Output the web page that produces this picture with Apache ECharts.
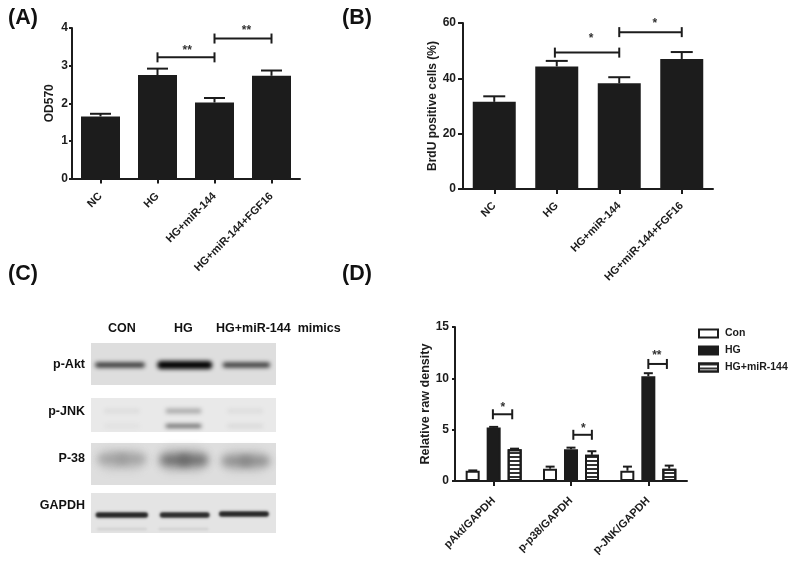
<!DOCTYPE html>
<html><head><meta charset="utf-8">
<style>html,body{margin:0;padding:0;background:#fff}#c{width:800px;height:562px}</style>
<script src="https://cdn.jsdelivr.net/npm/echarts@6/dist/echarts.min.js"></script>
</head><body><div id="c"></div>
<script>
const barCategories = ['NC','HG','HG+miR-144','HG+miR-144+FGF16'];
const odValues = [1.65,2.75,2.02,2.73];
const odErrTops = [1.72,2.92,2.14,2.87];
const odBrackets = [[1,2,3.22,'**',1.52,3.45],[2,3,3.72,'**',2.56,3.99]];
const brduValues = [31.5,44.3,38.2,47];
const brduErrTops = [33.5,46.3,40.4,49.5];
const brduBrackets = [[0.97,2,49.3,'*',1.55,54.9],[2,3,56.7,'*',2.57,60.4]];
const densityCategories = ['pAkt/GAPDH','p-p38/GAPDH','p-JNK/GAPDH'];
const conValues = [1.0,1.2,1.0];
const hgValues = [5.2,3.1,10.2];
const mirValues = [3.1,2.55,1.2];
const conErrTops = [1.03,1.4,1.4];
const hgErrTops = [5.27,3.25,10.5];
const mirErrTops = [3.15,2.9,1.5];
const densityBrackets = [[-0.01,0.24,6.5,'*',0.12,7.3],[1.03,1.27,4.5,'*',1.16,5.26],[2,2.24,11.4,'**',2.11,12.37]];
const blotLanes = ['CON','HG','HG+miR-144  mimics'];
const blotRows = ['p-Akt','p-JNK','P-38','GAPDH'];
// row, lane position, vertical offset, band grey level, relative height, relative width
const blotBands = [
 [0,-0.03,22,45,1.2,1],[0,1.02,22,0,2.0,1.1],[0,2.02,22,50,1.2,.95],
 [1,0,68,215,.8,1],[1,1,68,165,1.1,1],[1,2,68,215,.8,1],[1,0,83,222,.8,1],[1,1,83,70,.8,1],[1,2,83,212,.7,1],
 [2,0,117,200,5.5,1.5],[2,1,117,190,6,1.6],[2,2,118,198,5.5,1.5],
 [2,-0.14,116,150,1.8,1],[2,0.14,116,150,1.8,1],[2,0.87,117,100,2.2,1],[2,1.15,117,100,2.2,1],[2,1.87,118,128,1.9,1],[2,2.15,118,128,1.9,1],
 [3,0,172,35,1.35,1.05],[3,1.02,172,40,1.35,1],[3,1.98,171,35,1.35,1],[3,0,186,208,.6,1],[3,1,186,208,.6,1]
];
const blotStrips = [[0,0,42,222],[1,55,89,233],[2,100,142,222],[3,150,190,228]];

const ink = '#1c1c1c';
const font = 'Liberation Sans';

function grid(l,t,w,h){return {left:l,top:t,width:w,height:h,containLabel:false};}
function catAxis(i,cats,size,margin){return {type:'category',gridIndex:i,data:cats,
  axisLine:{show:true,onZero:false,lineStyle:{color:ink,width:2}},
  axisTick:{show:true,alignWithLabel:true,length:5,lineStyle:{color:ink,width:2}},
  axisLabel:{rotate:45,interval:0,color:ink,fontFamily:font,fontWeight:'bold',fontSize:size,margin:margin}};}
function hiddenX(i,min,max){return {type:'value',gridIndex:i,min:min,max:max,show:false};}
function valAxis(i,max,step,name,gap,size,nameSize,tick,margin){return {type:'value',gridIndex:i,min:0,max:max,interval:step,
  name:name,nameLocation:'middle',nameGap:gap,
  nameTextStyle:{color:ink,fontFamily:font,fontWeight:'bold',fontSize:nameSize},
  axisLine:{show:true,onZero:false,lineStyle:{color:ink,width:2}},
  axisTick:{show:true,length:tick,lineStyle:{color:ink,width:2}},
  splitLine:{show:false},
  axisLabel:{color:ink,fontFamily:font,fontWeight:'bold',fontSize:size,margin:margin}};}

function errorSeries(i,xIdx,rows,cap){return {type:'custom',xAxisIndex:xIdx,yAxisIndex:i,silent:true,z:1,
  data:rows,
  renderItem:function(p,api){
    const a=api.coord([api.value(0),api.value(1)]),b=api.coord([api.value(0),api.value(2)]);
    const st={stroke:ink,lineWidth:2,fill:null};
    return {type:'group',children:[
      {type:'line',shape:{x1:a[0],y1:a[1],x2:b[0],y2:b[1]},style:st},
      {type:'line',shape:{x1:b[0]-cap,y1:b[1],x2:b[0]+cap,y2:b[1]},style:st}]};
  }};}
function bracketSeries(i,xIdx,rows,capH){return {type:'custom',xAxisIndex:xIdx,yAxisIndex:i,silent:true,z:3,
  data:rows.map(r=>[r[0],r[1],r[2],r[4],r[5],r[3]]),
  renderItem:function(p,api){
    const a=api.coord([api.value(0),api.value(2)]),b=api.coord([api.value(1),api.value(2)]);
    const s=api.coord([api.value(3),api.value(4)]);
    const st={stroke:ink,lineWidth:2,fill:null};
    return {type:'group',children:[
      {type:'line',shape:{x1:a[0],y1:a[1],x2:b[0],y2:b[1]},style:st},
      {type:'line',shape:{x1:a[0],y1:a[1]-capH,x2:a[0],y2:a[1]+capH},style:st},
      {type:'line',shape:{x1:b[0],y1:b[1]-capH,x2:b[0],y2:b[1]+capH},style:st},
      {type:'text',style:{text:rows[p.dataIndex][3],x:s[0],y:s[1]+2,align:'center',verticalAlign:'middle',
        fill:'#333',font:'bold 12px "'+font+'"'}}]};
  }};}

const stripeDecal = {symbol:'rect',dashArrayX:[1,0],dashArrayY:[1.4,1.6],symbolSize:1,rotation:0,color:'#333'};

function label(x,y,text,size,align){return {type:'text',left:align==='right'?undefined:x,right:align==='right'?800-x:undefined,top:y-size*0.5,
  style:{text:text,fill:'#111',font:'bold '+size+'px "'+font+'"'}};}

const option = {
  backgroundColor:'#ffffff',animation:false,
  textStyle:{fontFamily:font},
  legend:{orient:'vertical',left:698,top:328,padding:0,itemWidth:19,itemHeight:8,itemGap:6,selectedMode:false,icon:'rect',
    data:['Con','HG','HG+miR-144'],
    textStyle:{color:ink,fontFamily:font,fontWeight:'bold',fontSize:10.5,padding:[0,0,0,2]}},
  grid:[grid(72,28,228,150.5),grid(463,23,250,166),grid(455,327,232,154),grid(91,343,185,190)],
  xAxis:[catAxis(0,barCategories,11,16),catAxis(1,barCategories,11,15),catAxis(2,densityCategories,11,18),
    hiddenX(0,-0.5,3.5),hiddenX(1,-0.5,3.5),hiddenX(2,-0.5,2.5),hiddenX(3,-0.5,2.5)],
  yAxis:[valAxis(0,4,1,'OD570',16,12,12,3,4),valAxis(1,60,20,'BrdU positive cells (%)',24,12,12,5,7),
    valAxis(2,15,5,'Relative raw density',20,12,12.6,3,6),
    {type:'value',gridIndex:3,min:0,max:190,inverse:true,show:false}],
  graphic:{elements:[
    label(8,18,'(A)',21.5),label(342,18,'(B)',21.5),label(8,274,'(C)',21.5),label(342,274,'(D)',21.5),
    label(108,328,blotLanes[0],12.5),label(174,328,blotLanes[1],12.5),label(216,328,blotLanes[2],12.5),
    label(85,364,blotRows[0],12.5,'right'),label(85,411,blotRows[1],12.5,'right'),
    label(85,458,blotRows[2],12.5,'right'),label(85,505,blotRows[3],12.5,'right')
  ]},
  series:[
    {type:'bar',xAxisIndex:0,yAxisIndex:0,data:odValues,barWidth:39,itemStyle:{color:ink},z:2,silent:true},
    errorSeries(0,3,odValues.map((v,i)=>[i,v,odErrTops[i]]),10.5),
    bracketSeries(0,3,odBrackets,5),
    {type:'bar',xAxisIndex:1,yAxisIndex:1,data:brduValues,barWidth:43,itemStyle:{color:ink},z:2,silent:true},
    errorSeries(1,4,brduValues.map((v,i)=>[i,v,brduErrTops[i]]),11),
    bracketSeries(1,4,brduBrackets,5),
    {name:'Con',type:'bar',xAxisIndex:2,yAxisIndex:2,data:conValues,barWidth:14,barGap:'50%',z:2,silent:true,
      itemStyle:{color:'#fff',borderColor:ink,borderWidth:2}},
    {name:'HG',type:'bar',xAxisIndex:2,yAxisIndex:2,data:hgValues,barWidth:14,barGap:'50%',z:2,silent:true,
      itemStyle:{color:ink,borderColor:ink,borderWidth:2}},
    {name:'HG+miR-144',type:'bar',xAxisIndex:2,yAxisIndex:2,data:mirValues,barWidth:14,barGap:'50%',z:2,silent:true,
      itemStyle:{color:'#fff',borderColor:ink,borderWidth:2,decal:stripeDecal}},
    errorSeries(2,5,conValues.map((v,i)=>[i-0.27,v,conErrTops[i]]),4.5),
    errorSeries(2,5,hgValues.map((v,i)=>[i,v,hgErrTops[i]]),4.5),
    errorSeries(2,5,mirValues.map((v,i)=>[i+0.27,v,mirErrTops[i]]),4.5),
    bracketSeries(2,5,densityBrackets,5),
    // western-blot strips
    {type:'custom',xAxisIndex:6,yAxisIndex:3,silent:true,z:1,data:blotStrips,
      renderItem:function(p,api){
        const a=api.coord([-0.5,api.value(1)]),b=api.coord([2.5,api.value(2)]);const g=api.value(3);
        return {type:'rect',shape:{x:a[0],y:a[1],width:b[0]-a[0],height:b[1]-a[1]},
          style:{fill:'rgb('+g+','+g+','+g+')'}};
      }},
    {type:'custom',xAxisIndex:6,yAxisIndex:3,silent:true,z:2,data:blotBands,
      renderItem:function(p,api){
        const row=api.value(0),c=api.coord([api.value(1),api.value(2)]),g=api.value(3),k=api.value(4),kw=api.value(5);
        const col='rgb('+g+','+g+','+g+')',off=1200;
        const w=kw*(row===1?36:(row===2?30:50)),h=4*k;
        return {type:'rect',shape:{x:c[0]-w/2-off,y:c[1]-h/2,width:w,height:h,r:h/2},
          style:{fill:col,shadowColor:col,shadowOffsetX:off,shadowBlur:row===2?8:(row===3?2.5:4.5)}};
      }}
  ]
};
const chart = echarts.init(document.getElementById('c'),null,{renderer:'canvas',width:800,height:562,devicePixelRatio:1});
chart.setOption(option);
</script></body></html>
